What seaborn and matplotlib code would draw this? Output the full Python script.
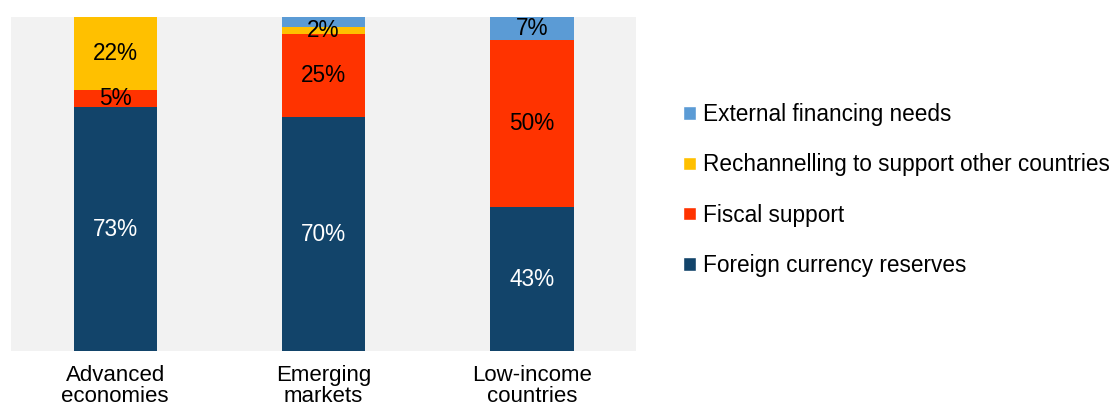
import numpy as np
import pandas as pd
import seaborn as sns
import matplotlib.pyplot as plt
from matplotlib.patches import Patch

# data (shares, %)
groups = ['Advanced\neconomies', 'Emerging\nmarkets', 'Low-income\ncountries']
reserves = [73, 70, 43]
fiscal = [5, 25, 50]
rechannel = [22, 2, 0]
external = [0, 3, 7]
series = ['Foreign currency reserves', 'Fiscal support',
          'Rechannelling to support other countries', 'External financing needs']
colors = ['#12446a', '#ff3300', '#ffc000', '#5b9bd5']
label_colors = ['white', 'black', 'black', 'black']
# which segments carry a value label
show_label = [[True, True, True],
              [True, True, True],
              [True, True, False],
              [False, False, True]]

sns.set_theme(style='white')
plt.rcParams['font.family'] = ['Liberation Sans', 'DejaVu Sans']
plt.rcParams['text.color'] = 'black'

df = pd.DataFrame({'group': groups, series[0]: reserves, series[1]: fiscal,
                   series[2]: rechannel, series[3]: external})
vals = df[series].to_numpy(dtype=float)
cum = vals.cumsum(axis=1)

fig = plt.figure(figsize=(11.11, 4.13), dpi=100)
ax = fig.add_axes([0.0099, 0.150, 0.5626, 0.809])
ax.set_facecolor('#f2f2f2')

# stacked bars: draw the cumulative totals from the top layer down
for i in reversed(range(len(series))):
    sns.barplot(x=df['group'], y=cum[:, i], color=colors[i], width=0.40,
                saturation=1, linewidth=0, ax=ax)

for j in range(len(groups)):
    for i in range(len(series)):
        if show_label[i][j] and vals[j, i] > 0:
            y = cum[j, i] - vals[j, i] / 2
            ax.text(j, y, f'{int(vals[j, i])}%', ha='center', va='center',
                    color=label_colors[i], fontsize=16.3)

ax.set_xlim(-0.5, 2.5)
ax.set_ylim(0, 100)
ax.set_xlabel('')
ax.set_ylabel('')
ax.set_yticks([])
ax.tick_params(axis='x', length=0, pad=10, labelsize=16, colors='black')
for lbl in ax.get_xticklabels():
    lbl.set_linespacing(1.0)
for s in ax.spines.values():
    s.set_visible(False)

handles = [Patch(facecolor=colors[i], label=series[i]) for i in reversed(range(len(series)))]
fig.legend(handles=handles, loc='center left', bbox_to_anchor=(0.607, 0.540),
           frameon=False, fontsize=16.3, handlelength=0.55, handleheight=0.55,
           handletextpad=0.3, labelspacing=1.2, borderaxespad=0)

fig.savefig('out.png', dpi=100)
